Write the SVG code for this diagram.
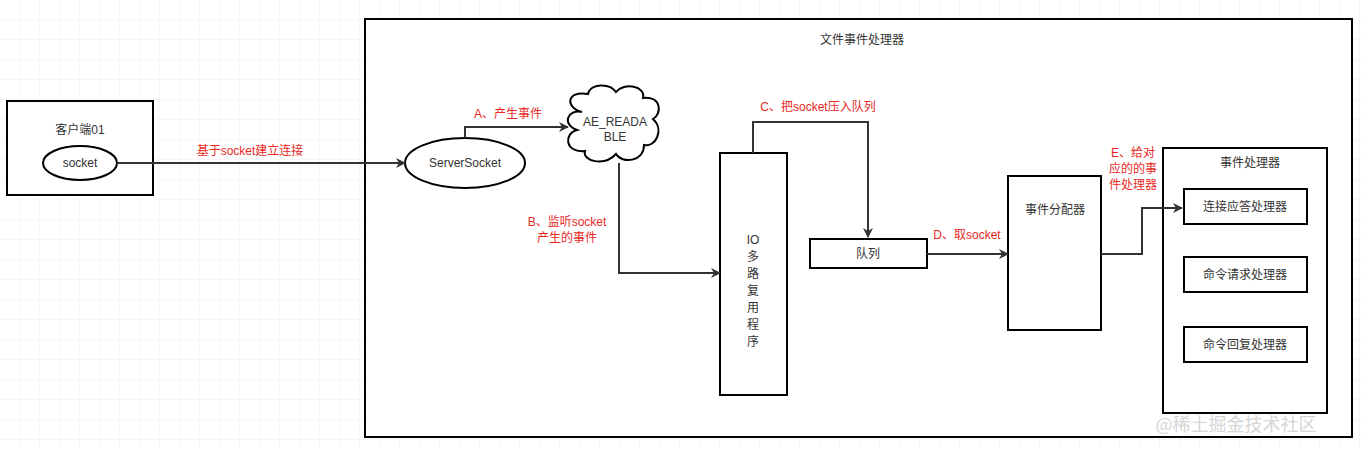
<svg xmlns="http://www.w3.org/2000/svg" width="1365" height="449" viewBox="0 0 1365 449">
<defs>
<style>
.b{fill:#fff;stroke:#000;stroke-width:2}
.t{font-family:"Liberation Sans","Noto Sans CJK SC",sans-serif;font-size:12px;fill:#333;text-anchor:middle}
.r{font-family:"Liberation Sans","Noto Sans CJK SC",sans-serif;font-size:12px;fill:#e8281e;text-anchor:middle}
.c{fill:none;stroke:#333;stroke-width:2}
</style>
<marker id="a" markerWidth="10" markerHeight="10" refX="9" refY="5" orient="auto" markerUnits="userSpaceOnUse"><path d="M0,0L10,5L0,10L3,5z" fill="#333"/></marker>
<pattern id="g" width="20" height="20" patternUnits="userSpaceOnUse"><path d="M20 0V20H0" fill="none" stroke="#eee" stroke-width="1"/></pattern>
</defs>
<rect width="1365" height="449" fill="#fff"/>
<rect width="1365" height="449" fill="url(#g)"/>
<g id="outer"><rect class="b" x="365" y="19" width="987" height="418"/><text class="t" x="862" y="44">文件事件处理器</text></g>
<g id="client"><rect class="b" x="7" y="101" width="146" height="94"/><text class="t" x="80" y="134">客户端01</text></g>
<g id="socket"><ellipse class="b" cx="80" cy="163" rx="37" ry="17"/><text class="t" x="80" y="167">socket</text></g>
<g id="server"><ellipse class="b" cx="465" cy="163" rx="60" ry="25"/><text class="t" x="465" y="167">ServerSocket</text></g>
<g id="cloud"><path class="b" d="M582,112 C565,108 566,90 588,94 C590,83 610,83 616,92 C624,82 646,86 643,98 C662,96 662,114 653,119 C665,130 655,148 644,145 C644,162 622,164 616,154 C604,167 582,161 585,151 C564,153 564,133 577,130 C561,124 568,109 582,112 Z"/><text class="t" x="615" y="126">AE_READA</text><text class="t" x="615" y="141">BLE</text></g>
<g id="io"><rect class="b" x="720" y="153" width="67" height="242"/><text class="t" x="753" y="244">IO</text><text class="t" x="753" y="261">多</text><text class="t" x="753" y="278">路</text><text class="t" x="753" y="295">复</text><text class="t" x="753" y="312">用</text><text class="t" x="753" y="329">程</text><text class="t" x="753" y="346">序</text></g>
<g id="queue"><rect class="b" x="810" y="239" width="117" height="29"/><text class="t" x="868" y="258">队列</text></g>
<g id="dispatcher"><rect class="b" x="1008" y="176" width="93" height="154"/><text class="t" x="1055" y="214">事件分配器</text></g>
<g id="handlers"><rect class="b" x="1163" y="148" width="164" height="265"/><text class="t" x="1250" y="167">事件处理器</text></g>
<g id="h1"><rect class="b" x="1184" y="189" width="123" height="35"/><text class="t" x="1245" y="211">连接应答处理器</text></g>
<g id="h2"><rect class="b" x="1184" y="257" width="123" height="35"/><text class="t" x="1245" y="279">命令请求处理器</text></g>
<g id="h3"><rect class="b" x="1184" y="327" width="123" height="35"/><text class="t" x="1245" y="349">命令回复处理器</text></g>
<g id="connectors">
<path class="c" d="M117,163H405" marker-end="url(#a)"/>
<text class="r" x="250" y="155">基于socket建立连接</text>
<path class="c" d="M465,138V127H568" marker-end="url(#a)"/>
<text class="r" x="508" y="118">A、产生事件</text>
<path class="c" d="M619,163V273H720" marker-end="url(#a)"/>
<text class="r" x="567" y="226">B、监听socket</text><text class="r" x="567" y="242">产生的事件</text>
<path class="c" d="M753,153V122H868V237" marker-end="url(#a)"/>
<text class="r" x="818" y="111">C、把socket压入队列</text>
<path class="c" d="M927,254H1008" marker-end="url(#a)"/>
<text class="r" x="967" y="239">D、取socket</text>
<path class="c" d="M1101,254H1142V208H1182" marker-end="url(#a)"/>
<text class="r" x="1133" y="157">E、给对</text><text class="r" x="1133" y="173">应的的事</text><text class="r" x="1133" y="189">件处理器</text>
</g>
<text x="1236" y="431" style="font-family:'Noto Sans CJK SC',sans-serif;font-size:18px;fill:#ccc;text-anchor:middle;opacity:.8">@稀土掘金技术社区</text>
</svg>
